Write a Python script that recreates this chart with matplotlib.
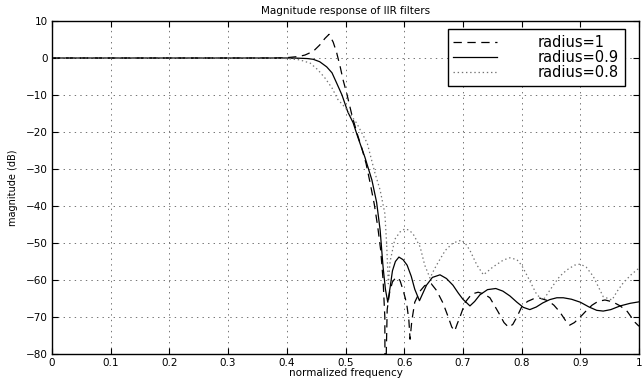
import matplotlib
matplotlib.use("Agg")
import matplotlib.pyplot as plt

# ---- data ----
x_r1 = [0, 0.1, 0.2, 0.3, 0.38, 0.40, 0.42, 0.431, 0.445, 0.456, 0.465, 0.472, 0.479,
        0.485, 0.491, 0.496, 0.502, 0.511, 0.520, 0.528, 0.535, 0.542, 0.549, 0.555,
        0.560, 0.564, 0.567, 0.5675, 0.571, 0.575, 0.580, 0.585, 0.589, 0.593, 0.598,
        0.602, 0.605, 0.608, 0.610, 0.613, 0.618, 0.627, 0.635, 0.646, 0.655, 0.666,
        0.675, 0.681, 0.686, 0.690, 0.695, 0.704, 0.715, 0.726, 0.736, 0.746, 0.760,
        0.770, 0.778, 0.785, 0.792, 0.800, 0.810, 0.820, 0.831, 0.845, 0.855, 0.865,
        0.875, 0.882, 0.890, 0.903, 0.912, 0.920, 0.930, 0.942, 0.955, 0.968, 0.980,
        0.993, 1.0]
y_r1 = [0, 0, 0, 0, 0, 0.1, 0.4, 0.8, 1.8, 3.5, 5.3, 6.4, 4.3,
        1.4, -2.4, -6.0, -9.5, -15.5, -20.5, -24.5, -28.5, -33.8, -39.5, -45.7,
        -52.0, -60.0, -70.0, -95.0, -68.0, -63.5, -60.5, -59.5, -59.3, -60.2, -62.7,
        -65.0, -67.3, -71.0, -76.0, -71.0, -66.0, -63.0, -61.5, -61.0, -62.8, -66.2,
        -70.0, -72.7, -73.8, -72.0, -70.0, -66.0, -63.8, -63.3, -63.8, -64.8, -68.6,
        -71.5, -72.8, -72.0, -70.0, -67.3, -65.8, -65.1, -64.9, -65.6, -66.8, -68.6,
        -71.0, -72.2, -71.5, -69.5, -68.0, -66.8, -65.8, -65.4, -65.9, -67.0, -68.5,
        -71.4, -72.5]

x_r09 = [0, 0.1, 0.2, 0.3, 0.40, 0.42, 0.435, 0.445, 0.456, 0.468, 0.477, 0.485,
         0.494, 0.504, 0.513, 0.521, 0.533, 0.545, 0.553, 0.559, 0.564, 0.568, 0.572,
         0.576, 0.580, 0.585, 0.591, 0.598, 0.605, 0.612, 0.618, 0.626, 0.632, 0.638,
         0.648, 0.661, 0.672, 0.683, 0.692, 0.700, 0.712, 0.720, 0.729, 0.742, 0.756,
         0.768, 0.780, 0.792, 0.803, 0.814, 0.825, 0.836, 0.848, 0.860, 0.871, 0.885,
         0.900, 0.915, 0.928, 0.939, 0.952, 0.968, 0.985, 1.0]
y_r09 = [0, 0, 0, 0, 0, -0.05, -0.15, -0.35, -1.0, -2.4, -4.0, -6.8,
         -10.0, -14.6, -17.5, -21.4, -26.8, -33.0, -39.0, -46.5, -56.5, -62.5, -66.0,
         -62.0, -57.5, -55.0, -53.8, -54.5, -56.0, -59.0, -62.5, -65.6, -63.5, -61.4,
         -59.3, -58.6, -59.6, -61.4, -63.5, -65.2, -67.0, -65.8, -64.0, -62.6, -62.3,
         -63.0, -64.3, -66.0, -67.4, -68.0, -67.3, -66.2, -65.3, -64.8, -64.8, -65.2,
         -66.0, -67.3, -68.2, -68.4, -68.0, -67.0, -66.3, -65.9]

x_r08 = [0, 0.1, 0.2, 0.3, 0.38, 0.40, 0.422, 0.44, 0.453, 0.465, 0.477, 0.487,
         0.500, 0.519, 0.537, 0.550, 0.559, 0.567, 0.570, 0.573, 0.576, 0.584, 0.593,
         0.601, 0.608, 0.615, 0.627, 0.635, 0.644, 0.650, 0.655, 0.670, 0.683, 0.698,
         0.705, 0.712, 0.724, 0.735, 0.745, 0.751, 0.769, 0.780, 0.792, 0.800, 0.810,
         0.826, 0.837, 0.845, 0.854, 0.865, 0.877, 0.890, 0.900, 0.910, 0.922, 0.939,
         0.954, 0.963, 0.973, 0.987, 1.0]
y_r08 = [0, 0, 0, 0, -0.05, -0.15, -0.5, -1.4, -3.2, -5.4, -8.1, -11.2,
         -13.5, -17.6, -23.0, -31.0, -35.7, -42.0, -50.0, -61.0, -55.0, -49.0, -47.0,
         -46.2, -46.5, -47.5, -51.0, -56.0, -59.5, -57.5, -56.0, -52.0, -50.0, -49.2,
         -50.3, -52.0, -56.0, -58.6, -57.3, -56.5, -54.6, -54.0, -54.5, -56.0, -59.0,
         -64.0, -65.4, -63.5, -61.4, -59.0, -57.3, -56.0, -55.7, -56.5, -59.0, -64.5,
         -65.4, -63.0, -60.8, -58.5, -56.8]

labels = ["radius=1", "radius=0.9", "radius=0.8"]
xticks = [0, 0.1, 0.2, 0.3, 0.4, 0.5, 0.6, 0.7, 0.8, 0.9, 1]
xticklabels = ["0", "0.1", "0.2", "0.3", "0.4", "0.5", "0.6", "0.7", "0.8", "0.9", "1"]
yticks = [-80, -70, -60, -50, -40, -30, -20, -10, 0, 10]

plt.rcParams['font.family'] = ['DejaVu Sans']
plt.rcParams['lines.scale_dashes'] = False

fig = plt.figure(figsize=(6.42, 3.82), dpi=100)
ax = fig.add_axes([52 / 642, 1 - 354 / 382, 587 / 642, 333 / 382])

ax.plot(x_r1, y_r1, color='black', lw=0.9, linestyle=(0, (6, 4)), label=labels[0])
ax.plot(x_r09, y_r09, color='black', lw=0.9, linestyle='-', label=labels[1])
ax.plot(x_r08, y_r08, color='0.45', lw=0.9, linestyle=(0, (1, 2)), label=labels[2])

ax.set_xlim(0, 1)
ax.set_ylim(-80, 10)
ax.set_xticks(xticks)
ax.set_xticklabels(xticklabels)
ax.set_yticks(yticks)
ax.tick_params(direction='in', top=True, right=True, length=4, width=0.8,
               labelsize=7.5, pad=3)
ax.grid(True, color='0.45', linestyle=(0, (1, 3)), linewidth=0.7)
for s in ax.spines.values():
    s.set_linewidth(1.0)
    s.set_color('black')

ax.set_title("Magnitude response of IIR filters", fontsize=7.5, pad=5)
ax.set_xlabel("normalized frequency", fontsize=7.5, labelpad=0)
ax.set_ylabel("magnitude (dB)", fontsize=7, labelpad=6)

leg = ax.legend(loc='upper right', bbox_to_anchor=(0.976, 0.976), borderaxespad=0,
                fontsize=10.5, frameon=True, fancybox=False, framealpha=1,
                edgecolor='black', handlelength=3.0, handletextpad=2.8,
                labelspacing=0.0, borderpad=0.4, markerfirst=True)
leg.get_frame().set_linewidth(1.0)

fig.savefig("out.png", dpi=100)
